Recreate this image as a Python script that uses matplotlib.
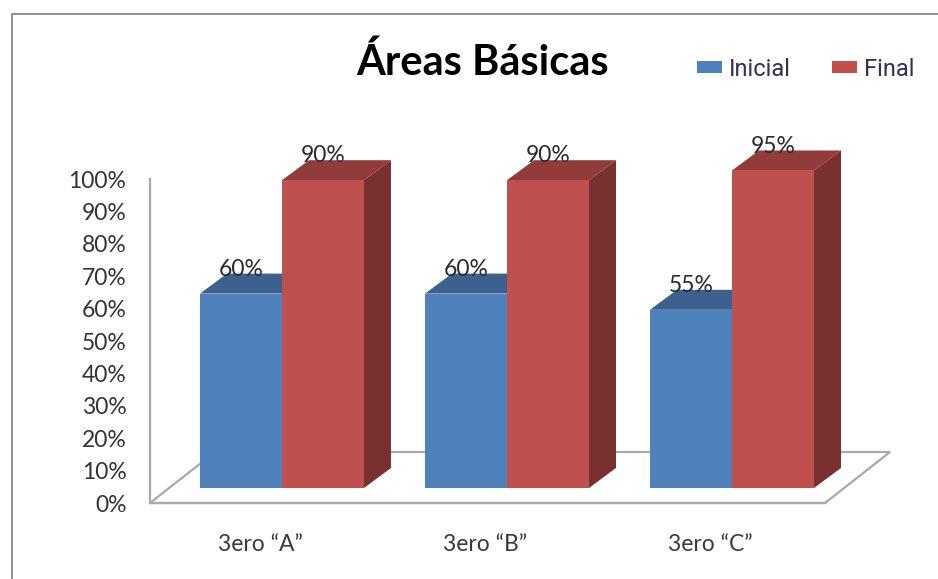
import matplotlib
matplotlib.use("Agg")
import matplotlib.pyplot as plt
from matplotlib.lines import Line2D
from matplotlib.patches import Patch, Polygon

# Data
categories = ['3ero “A”', '3ero “B”', '3ero “C”']
series_names = ['Inicial', 'Final']
# Bar heights as read against the axis (the printed labels differ slightly in the source)
inicial_heights = [60, 60, 55]
final_heights = [95, 95, 98]
inicial_labels = ['60%', '60%', '55%']
final_labels = ['90%', '90%', '95%']
y_ticks = [0, 10, 20, 30, 40, 50, 60, 70, 80, 90, 100]
y_tick_labels = ['0%', '10%', '20%', '30%', '40%', '50%', '60%', '70%', '80%', '90%', '100%']

W, H = 938, 579
fig = plt.figure(figsize=(W / 100, H / 100), dpi=100, facecolor='white')
plt.rcParams['font.family'] = ['Lato', 'DejaVu Sans']

L, R, B, T = 150, 825, 503, 179
ax = fig.add_axes([L / W, 1 - B / H, (R - L) / W, (B - T) / H])
ax.set_xlim(-132 / 225, 543 / 225)
ax.set_ylim(0, 100)
ax.patch.set_alpha(0)
px_x = 1 / 225      # data units per pixel, x
px_y = 100 / (B - T)  # data units per pixel, y

GREY = '#a9a9a9'
for s in ['top', 'right']:
    ax.spines[s].set_visible(False)
for s in ['left', 'bottom']:
    ax.spines[s].set_color(GREY)
    ax.spines[s].set_linewidth(1.6)

# Floor
x0, x1 = ax.get_xlim()
fdx, fdy = 65 * px_x, 51 * px_y
ax.add_patch(Polygon([(x0, 0), (x1, 0), (x1 + fdx, fdy), (x0 + fdx, fdy)], closed=True,
                     facecolor='white', edgecolor=GREY, linewidth=1.6,
                     clip_on=False, zorder=1))

# Bars
bw = 82 * px_x
base = 15 * px_y
ddx, ddy = 27 * px_x, 20 * px_y


def bars(heights, labels, offset, front, top, side, z):
    for i, (h, lab) in enumerate(zip(heights, labels)):
        xl = i + offset
        xr = xl + bw
        yt = base + h
        ax.add_patch(Polygon([(xl, yt), (xr, yt), (xr + ddx, yt + ddy), (xl + ddx, yt + ddy)],
                             closed=True, facecolor=top, edgecolor='none', clip_on=False, zorder=z))
        ax.add_patch(Polygon([(xr, base), (xr + ddx, base + ddy), (xr + ddx, yt + ddy), (xr, yt)],
                             closed=True, facecolor=side, edgecolor='none', clip_on=False, zorder=z))
        ax.bar(xl, h, width=bw, bottom=base, align='edge', color=front, clip_on=False, zorder=z + 0.5)
        ax.annotate(lab, (xl + bw / 2, yt), xytext=(0, 17.5), textcoords='offset points',
                    ha='center', va='center', fontsize=16.5, color='#2a2a2a',
                    annotation_clip=False, zorder=z + 3)


bars(inicial_heights, inicial_labels, -bw, '#4f81bd', '#3c618f', '#2f4f75', 3)
bars(final_heights, final_labels, 0, '#c0504d', '#913c3a', '#7a302e', 4)

# Axis ticks and labels
ax.set_yticks(y_ticks)
ax.set_yticklabels(y_tick_labels, fontsize=16.5, color='#333333')
ax.set_xticks([i - 22 * px_x for i in range(len(categories))])
ax.set_xticklabels(categories, fontsize=16.5, color='#3a3a3a')
ax.tick_params(axis='y', length=0, pad=17)
ax.tick_params(axis='x', length=0, pad=22)

# Title
fig.text(482.5 / W, 1 - 62 / H, 'Áreas Básicas', ha='center', va='center',
         fontsize=30, fontweight='bold', color='black')

# Legend
handles = [Patch(facecolor='#4f81bd', edgecolor='none'), Patch(facecolor='#c0504d', edgecolor='none')]
leg = fig.legend(handles, series_names, ncol=2, frameon=False, loc='center left',
                 bbox_to_anchor=(697 / W, 1 - 69 / H),
                 prop={'family': 'Roboto', 'size': 17},
                 handlelength=1.06, handleheight=0.42, handletextpad=0.3, columnspacing=1.74,
                 labelcolor='#35304f', borderpad=0, borderaxespad=0)

# Outer frame
fig.add_artist(Line2D([12 / W, 12 / W, 1], [0, 1 - 14 / H, 1 - 14 / H],
                      transform=fig.transFigure, color='#8f8f8f', linewidth=1.4))

fig.savefig('out.png', dpi=100, facecolor='white')
